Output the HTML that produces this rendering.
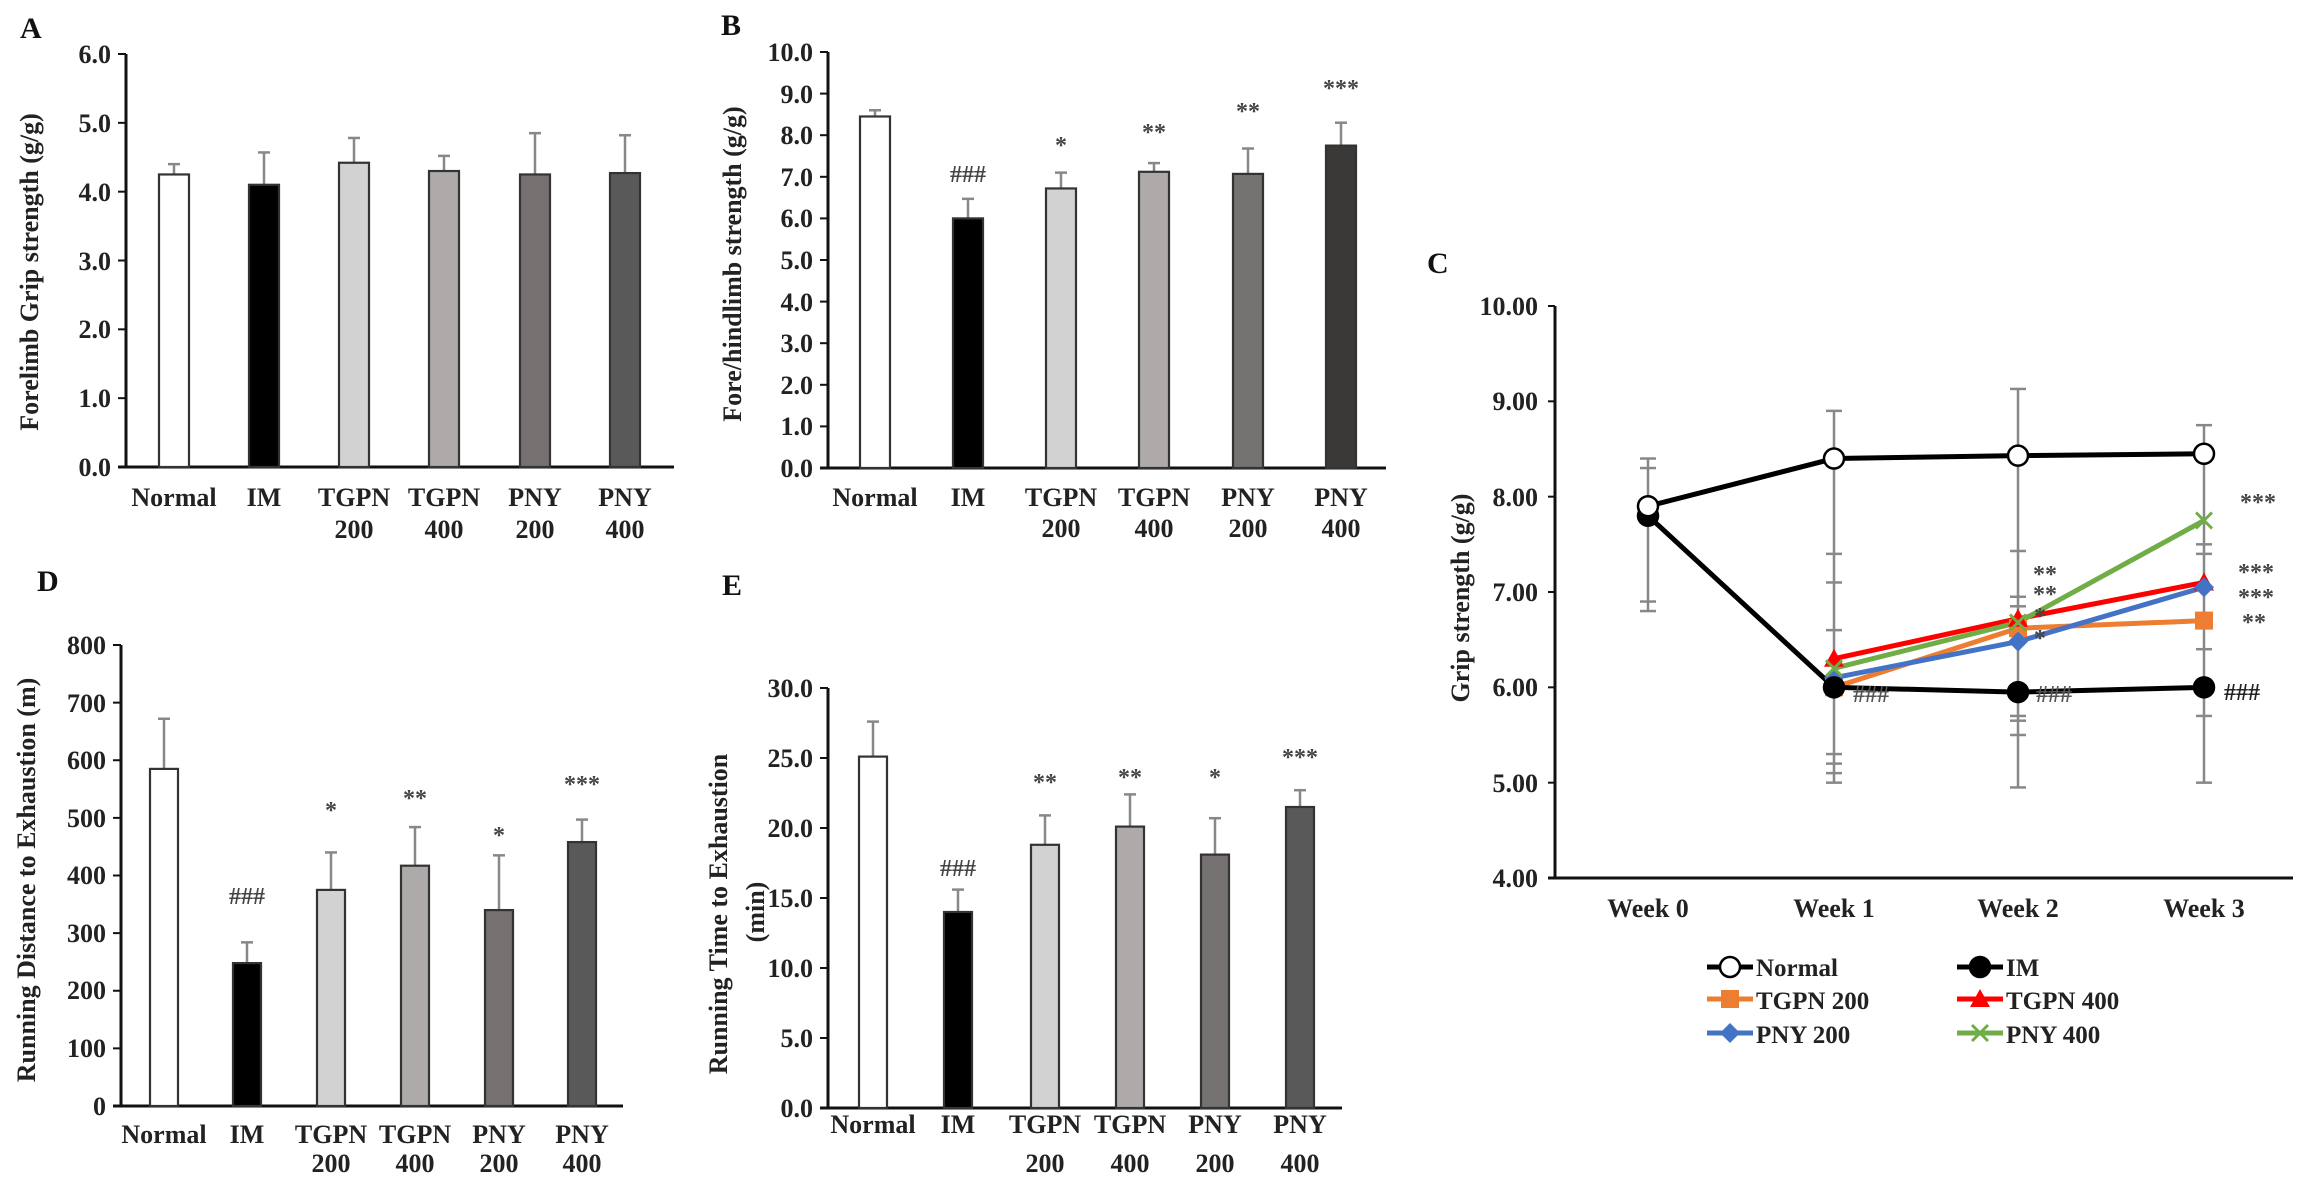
<!DOCTYPE html>
<html><head><meta charset="utf-8"><style>
html,body{margin:0;padding:0;background:#fff;}
svg{display:block;font-family:"Liberation Serif",serif;font-weight:bold;}
.t{font-size:26px;fill:#222;}
.tc{font-size:26px;fill:#222;text-anchor:middle;}
.te{font-size:26px;fill:#222;text-anchor:end;}
.lab{font-size:30px;fill:#111;}
.st{font-size:24px;fill:#444;text-anchor:middle;}
.lg{font-size:25px;fill:#222;}
</style></head><body>
<svg id="s" width="2312" height="1184" viewBox="0 0 2312 1184" xmlns="http://www.w3.org/2000/svg">
<g id="shapes"></g>
<!-- Panel letters -->
<text class="lab" x="20" y="38">A</text>
<text class="lab" x="721" y="35">B</text>
<text class="lab" x="1427" y="273">C</text>
<text class="lab" x="37" y="591">D</text>
<text class="lab" x="722" y="595">E</text>

<!-- A -->
<text class="te" x="111" y="63">6.0</text>
<text class="te" x="111" y="132">5.0</text>
<text class="te" x="111" y="201">4.0</text>
<text class="te" x="111" y="270">3.0</text>
<text class="te" x="111" y="338">2.0</text>
<text class="te" x="111" y="407">1.0</text>
<text class="te" x="111" y="476">0.0</text>
<text class="tc" transform="rotate(-90 38 272)" x="38" y="272">Forelimb Grip strength  (g/g)</text>
<text class="tc" x="174" y="506">Normal</text>
<text class="tc" x="264" y="506">IM</text>
<text class="tc" x="354" y="506">TGPN</text><text class="tc" x="354" y="538">200</text>
<text class="tc" x="444" y="506">TGPN</text><text class="tc" x="444" y="538">400</text>
<text class="tc" x="535" y="506">PNY</text><text class="tc" x="535" y="538">200</text>
<text class="tc" x="625" y="506">PNY</text><text class="tc" x="625" y="538">400</text>

<!-- B -->
<text class="te" x="813" y="61">10.0</text>
<text class="te" x="813" y="103">9.0</text>
<text class="te" x="813" y="144">8.0</text>
<text class="te" x="813" y="186">7.0</text>
<text class="te" x="813" y="227">6.0</text>
<text class="te" x="813" y="269">5.0</text>
<text class="te" x="813" y="311">4.0</text>
<text class="te" x="813" y="352">3.0</text>
<text class="te" x="813" y="394">2.0</text>
<text class="te" x="813" y="435">1.0</text>
<text class="te" x="813" y="477">0.0</text>
<text class="tc" transform="rotate(-90 741 264)" x="741" y="264">Fore/hindlimb strength  (g/g)</text>
<text class="tc" x="875" y="506">Normal</text>
<text class="tc" x="968" y="506">IM</text>
<text class="tc" x="1061" y="506">TGPN</text><text class="tc" x="1061" y="537">200</text>
<text class="tc" x="1154" y="506">TGPN</text><text class="tc" x="1154" y="537">400</text>
<text class="tc" x="1248" y="506">PNY</text><text class="tc" x="1248" y="537">200</text>
<text class="tc" x="1341" y="506">PNY</text><text class="tc" x="1341" y="537">400</text>
<text class="st" x="968" y="182">###</text>
<text class="st" x="1061" y="153">*</text>
<text class="st" x="1154" y="140">**</text>
<text class="st" x="1248" y="119">**</text>
<text class="st" x="1341" y="96">***</text>

<!-- D -->
<text class="te" x="106" y="654">800</text>
<text class="te" x="106" y="712">700</text>
<text class="te" x="106" y="769">600</text>
<text class="te" x="106" y="827">500</text>
<text class="te" x="106" y="884">400</text>
<text class="te" x="106" y="942">300</text>
<text class="te" x="106" y="999">200</text>
<text class="te" x="106" y="1057">100</text>
<text class="te" x="106" y="1115">0</text>
<text class="tc" transform="rotate(-90 35 880)" x="35" y="880">Running Distance to  Exhaustion (m)</text>
<text class="tc" x="164" y="1143">Normal</text>
<text class="tc" x="247" y="1143">IM</text>
<text class="tc" x="331" y="1143">TGPN</text><text class="tc" x="331" y="1172">200</text>
<text class="tc" x="415" y="1143">TGPN</text><text class="tc" x="415" y="1172">400</text>
<text class="tc" x="499" y="1143">PNY</text><text class="tc" x="499" y="1172">200</text>
<text class="tc" x="582" y="1143">PNY</text><text class="tc" x="582" y="1172">400</text>
<text class="st" x="247" y="904">###</text>
<text class="st" x="331" y="818">*</text>
<text class="st" x="415" y="806">**</text>
<text class="st" x="499" y="843">*</text>
<text class="st" x="582" y="792">***</text>

<!-- E -->
<text class="te" x="813" y="697">30.0</text>
<text class="te" x="813" y="767">25.0</text>
<text class="te" x="813" y="837">20.0</text>
<text class="te" x="813" y="907">15.0</text>
<text class="te" x="813" y="977">10.0</text>
<text class="te" x="813" y="1047">5.0</text>
<text class="te" x="813" y="1117">0.0</text>
<text class="tc" transform="rotate(-90 727 914)" x="727" y="914">Running Time to Exhaustion</text>
<text class="tc" transform="rotate(-90 764 912)" x="764" y="912">(min)</text>
<text class="tc" x="873" y="1133">Normal</text>
<text class="tc" x="958" y="1133">IM</text>
<text class="tc" x="1045" y="1133">TGPN</text><text class="tc" x="1045" y="1172">200</text>
<text class="tc" x="1130" y="1133">TGPN</text><text class="tc" x="1130" y="1172">400</text>
<text class="tc" x="1215" y="1133">PNY</text><text class="tc" x="1215" y="1172">200</text>
<text class="tc" x="1300" y="1133">PNY</text><text class="tc" x="1300" y="1172">400</text>
<text class="st" x="958" y="876">###</text>
<text class="st" x="1045" y="790">**</text>
<text class="st" x="1130" y="785">**</text>
<text class="st" x="1215" y="785">*</text>
<text class="st" x="1300" y="765">***</text>

<!-- C -->
<text class="te" x="1538" y="315">10.00</text>
<text class="te" x="1538" y="410">9.00</text>
<text class="te" x="1538" y="506">8.00</text>
<text class="te" x="1538" y="601">7.00</text>
<text class="te" x="1538" y="696">6.00</text>
<text class="te" x="1538" y="792">5.00</text>
<text class="te" x="1538" y="887">4.00</text>
<text class="tc" transform="rotate(-90 1469 598)" x="1469" y="598">Grip strength (g/g)</text>
<text class="tc" x="1648" y="917">Week 0</text>
<text class="tc" x="1834" y="917">Week 1</text>
<text class="tc" x="2018" y="917">Week 2</text>
<text class="tc" x="2204" y="917">Week 3</text>
<text class="st" x="2240" y="510" style="text-anchor:start">***</text>
<text class="st" x="2238" y="580" style="text-anchor:start">***</text>
<text class="st" x="2238" y="605" style="text-anchor:start">***</text>
<text class="st" x="2242" y="630" style="text-anchor:start">**</text>
<text class="st" x="2033" y="582" style="text-anchor:start">**</text>
<text class="st" x="2033" y="602" style="text-anchor:start">**</text>
<text class="st" x="2034" y="624" style="text-anchor:start">*</text>
<text class="st" x="2034" y="646" style="text-anchor:start">*</text>
<text class="st" x="1853" y="702" style="text-anchor:start;fill:#555">###</text>
<text class="st" x="2036" y="702" style="text-anchor:start;fill:#555">###</text>
<text class="st" x="2224" y="700" style="text-anchor:start;fill:#222">###</text>
<text class="lg" x="1756" y="976">Normal</text>
<text class="lg" x="2006" y="976">IM</text>
<text class="lg" x="1756" y="1009">TGPN 200</text>
<text class="lg" x="2006" y="1009">TGPN 400</text>
<text class="lg" x="1756" y="1043">PNY 200</text>
<text class="lg" x="2006" y="1043">PNY 400</text>
</svg>
<script>
(function(){
var g=document.getElementById('shapes'),NS='http://www.w3.org/2000/svg';
function el(t,a){var e=document.createElementNS(NS,t);for(var k in a)e.setAttribute(k,a[k]);g.appendChild(e);return e;}
function line(x1,y1,x2,y2,c,w){el('line',{x1:x1,y1:y1,x2:x2,y2:y2,stroke:c,'stroke-width':w});}
function bars(p){
  line(p.x0,p.top,p.x0,p.y0+1,'#111',3);
  line(p.x0-8,p.y0,p.end,p.y0,'#111',3);
  for(var i=0;i<p.nt;i++){var y=p.y0-(p.y0-p.top)*i/(p.nt-1);line(p.x0-8,y,p.x0,y,'#111',2);}
  for(var j=0;j<6;j++){
    var cx=p.c[j],h=p.v[j]*p.k,e=p.e[j]*p.k,w=p.w;
    line(cx,p.y0-e,cx,p.y0-h,'#888',2.5);line(cx-6,p.y0-e,cx+6,p.y0-e,'#888',2.5);
    el('rect',{x:cx-w/2,y:p.y0-h,width:w,height:h,fill:p.f[j],stroke:'#333','stroke-width':2.2});
  }
}
var F=['#fff','#000','#d2d2d2','#aeaaaa','#767171','#595959'];
bars({x0:126,y0:467,top:54,end:674,nt:7,k:413/6,w:30,c:[174,264,354,444,535,625],
  v:[4.25,4.1,4.42,4.3,4.25,4.27],e:[4.4,4.57,4.78,4.52,4.85,4.82],f:F});
bars({x0:828,y0:468,top:52,end:1386,nt:11,k:41.6,w:30,c:[875,968,1061,1154,1248,1341],
  v:[8.45,6.0,6.72,7.12,7.07,7.75],e:[8.6,6.47,7.1,7.33,7.68,8.3],f:['#fff','#000','#d2d2d2','#aeaaaa','#767171','#3b3838']});
bars({x0:121,y0:1106,top:645,end:623,nt:9,k:461/800,w:28,c:[164,247,331,415,499,582],
  v:[585,248,375,417,340,458],e:[672,284,440,484,435,497],f:F});
bars({x0:828,y0:1108,top:688,end:1342,nt:7,k:420/30,w:28,c:[873,958,1045,1130,1215,1300],
  v:[25.1,14.0,18.8,20.1,18.1,21.5],e:[27.6,15.6,20.9,22.4,20.7,22.7],f:F});
// C
var X=[1648,1834,2018,2204];function Y(v){return 878-(v-4)*572/6;}
line(1555,306,1555,879,'#111',3);line(1548,878,2293,878,'#111',3);
for(var i=0;i<7;i++){var y=Y(4+i);line(1548,y,1555,y,'#111',2);}
var eb=[[0,6.8,8.4,[6.8,6.9,8.3,8.4]],[1,5.0,8.9,[5.0,5.1,5.2,5.3,6.6,7.1,7.4,8.9]],[2,4.95,9.13,[4.95,5.5,5.65,5.7,6.85,6.95,7.43,9.13]],[3,5.0,8.75,[5.0,5.7,6.4,7.4,7.5,8.75]]];
eb.forEach(function(b){var x=X[b[0]];line(x,Y(b[1]),x,Y(b[2]),'#888',2.5);b[3].forEach(function(v){line(x-8,Y(v),x+8,Y(v),'#888',2.5);});});
function poly(vals,c,w,xs){var pts=vals.map(function(v,i){return xs[i]+','+Y(v);}).join(' ');el('polyline',{points:pts,fill:'none',stroke:c,'stroke-width':w});}
var X1=X.slice(1);
poly([6.0,6.62,6.7],'#ed7d31',5,X1);
poly([6.1,6.48,7.05],'#4472c4',5,X1);
poly([6.3,6.72,7.1],'#ff0000',5,X1);
poly([6.2,6.68,7.75],'#70ad47',5,X1);
poly([7.8,6.0,5.95,6.0],'#000',5,X);
poly([7.9,8.4,8.43,8.45],'#000',5,X);
function sq(x,y,c){el('rect',{x:x-9,y:y-9,width:18,height:18,fill:c});}
function dia(x,y,c){el('polygon',{points:(x)+','+(y-10)+' '+(x+10)+','+y+' '+x+','+(y+10)+' '+(x-10)+','+y,fill:c});}
function tri(x,y,c){el('polygon',{points:x+','+(y-10)+' '+(x+10)+','+(y+8)+' '+(x-10)+','+(y+8),fill:c});}
function cr(x,y,c){line(x-8,y-8,x+8,y+8,c,3);line(x-8,y+8,x+8,y-8,c,3);}
function circ(x,y,f){el('circle',{cx:x,cy:y,r:10,fill:f,stroke:'#000','stroke-width':2.5});}
[6.0,6.62,6.7].forEach(function(v,i){sq(X1[i],Y(v),'#ed7d31');});
[6.3,6.72,7.1].forEach(function(v,i){tri(X1[i],Y(v),'#ff0000');});
[6.1,6.48,7.05].forEach(function(v,i){dia(X1[i],Y(v),'#4472c4');});
[6.2,6.68,7.75].forEach(function(v,i){cr(X1[i],Y(v),'#70ad47');});
[7.8,6.0,5.95,6.0].forEach(function(v,i){circ(X[i],Y(v),'#000');});
[7.9,8.4,8.43,8.45].forEach(function(v,i){circ(X[i],Y(v),'#fff');});
// legend
function lgl(x,y,c){line(x,y,x+46,y,c,5);}
lgl(1707,967,'#000');circ(1730,967,'#fff');
lgl(1957,967,'#000');circ(1980,967,'#000');
lgl(1707,999,'#ed7d31');sq(1730,999,'#ed7d31');
lgl(1957,999,'#ff0000');tri(1980,999,'#ff0000');
lgl(1707,1033,'#4472c4');dia(1730,1033,'#4472c4');
lgl(1957,1033,'#70ad47');cr(1980,1033,'#70ad47');
})();
</script>
</body></html>
